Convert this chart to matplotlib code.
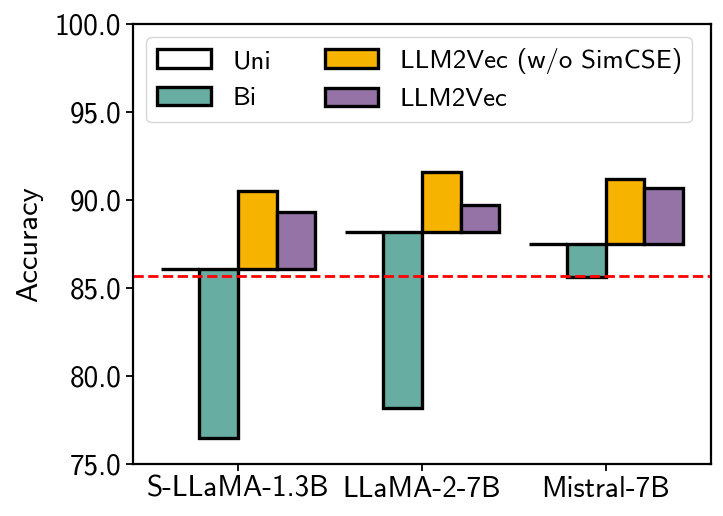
import matplotlib
matplotlib.use("Agg")
import matplotlib.pyplot as plt
import numpy as np
from matplotlib.ticker import FormatStrFormatter
from matplotlib.patches import Patch

plt.rcParams['font.family'] = ['cmss10', 'DejaVu Sans']
plt.rcParams['axes.unicode_minus'] = False
plt.rcParams['mathtext.fontset'] = 'cm'

models = ["S-LLaMA-1.3B", "LLaMA-2-7B", "Mistral-7B"]
uni = [86.1, 88.2, 87.5]
bi = [76.5, 78.2, 85.6]
llm2vec_wo = [90.5, 91.6, 91.2]
llm2vec = [89.3, 89.7, 90.7]
reference_line = 85.7
series_labels = ["Uni", "Bi", "LLM2Vec (w/o SimCSE)", "LLM2Vec"]
colors = ["white", "#67ada2", "#f6b300", "#9673a6"]

fig = plt.figure(figsize=(7.23, 5.16), dpi=100)
ax = fig.add_axes([0.184, 0.1008, 0.799, 0.8527])

x = np.arange(len(models))
w = 0.21
uni_a = np.array(uni)
lw = 2.4
ax.bar(x - 1.5 * w, np.zeros(3), w, bottom=uni_a, color=colors[0], edgecolor="black", linewidth=lw, label=series_labels[0])
ax.bar(x - 0.5 * w, np.array(bi) - uni_a, w, bottom=uni_a, color=colors[1], edgecolor="black", linewidth=lw, label=series_labels[1])
ax.bar(x + 0.5 * w, np.array(llm2vec_wo) - uni_a, w, bottom=uni_a, color=colors[2], edgecolor="black", linewidth=lw, label=series_labels[2])
ax.bar(x + 1.5 * w, np.array(llm2vec) - uni_a, w, bottom=uni_a, color=colors[3], edgecolor="black", linewidth=lw, label=series_labels[3])

ax.axhline(reference_line, color="red", linestyle="--", linewidth=2)

ax.set_ylim(75, 100)
ax.set_xlim(-0.57, 2.57)
ax.set_yticks([75, 80, 85, 90, 95, 100])
ax.yaxis.set_major_formatter(FormatStrFormatter('%.1f'))
ax.set_xticks(x)
ax.set_xticklabels(models)
ax.tick_params(axis='both', labelsize=21, width=1.3, length=5)
ax.set_ylabel("Accuracy", fontsize=22, labelpad=8)
for s in ax.spines.values():
    s.set_linewidth(1.6)

handles = [Patch(facecolor=c, edgecolor="black", linewidth=lw, label=l) for c, l in zip(colors, series_labels)]
ax.legend(handles=handles, ncol=2, loc="upper left", fontsize=19.3)

fig.savefig("out.png", dpi=100)
